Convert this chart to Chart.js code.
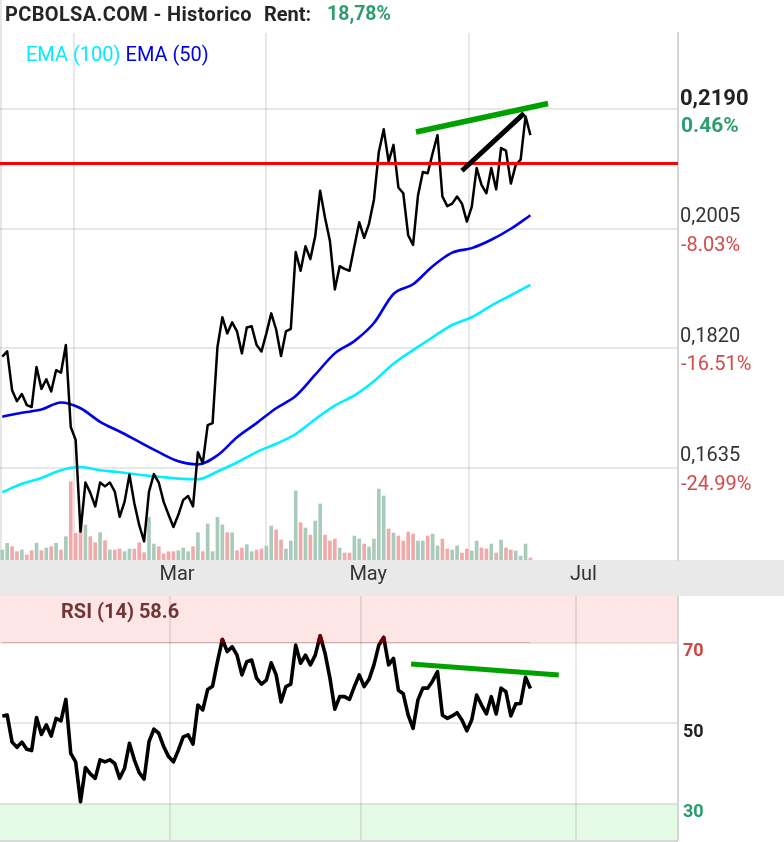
<!DOCTYPE html>
<html><head><meta charset="utf-8">
<script src="https://cdn.jsdelivr.net/npm/chart.js@4.4.1/dist/chart.umd.min.js"></script>
<style>
html,body{margin:0;padding:0;background:#fff;}
#wrap{position:relative;width:784px;height:842px;overflow:hidden;font-family:Roboto,"Noto Sans",sans-serif;}
canvas{position:absolute;left:0;}
#c1{top:0;}
#c2{top:596px;}
.t{position:absolute;white-space:pre;z-index:2;}
.h{top:4px;font-weight:bold;font-size:20px;line-height:20px;color:#252525;}
</style></head><body>
<div id="wrap">
<canvas id="c1" width="784" height="596"></canvas>
<canvas id="c2" width="784" height="246"></canvas>
<div class="t h" style="left:5px;letter-spacing:0.35px;">PCBOLSA.COM - Historico</div>
<div class="t h" style="left:264px;">Rent:</div>
<div class="t h" style="left:327px;font-size:19.5px;color:#2e9e6e">18,78%</div>
<div class="t" style="left:26px;top:44px;font-size:20px;line-height:20px;"><span style="color:#00eeff">EMA (100)</span> <span style="color:#0000ee">EMA (50)</span></div>
<div class="t" style="left:61px;top:601px;font-weight:bold;font-size:20px;line-height:20px;color:#703535">RSI (14) 58.6</div>
</div>
<script>
// ---- data ----
const closes = [0.1807,0.1815,0.1755,0.1738,0.1749,0.1732,0.1729,0.1791,0.1757,0.1772,
0.1753,0.1786,0.1782,0.1825,0.1698,0.1678,0.1536,0.1612,0.1596,0.1575,
0.1612,0.1606,0.1612,0.1598,0.1559,0.1582,0.1624,0.1580,0.1546,0.1521,
0.1598,0.1625,0.1612,0.1582,0.1562,0.1543,0.1562,0.1585,0.1591,0.1575,
0.1659,0.1642,0.1701,0.1704,0.1822,0.1868,0.1843,0.1860,0.1846,0.1812,
0.1852,0.1854,0.1825,0.1815,0.1843,0.1874,0.1849,0.1808,0.1846,0.1850,
0.1969,0.1940,0.1978,0.1958,0.1994,0.2064,0.2022,0.1986,0.1911,0.1947,
0.1943,0.1940,0.1978,0.2015,0.1991,0.2013,0.2050,0.2124,0.2159,0.2109,
0.2135,0.2069,0.2060,0.1995,0.1980,0.2056,0.2093,0.2091,0.2122,0.2150,
0.2055,0.2040,0.2044,0.2055,0.2044,0.2016,0.2039,0.2099,0.2073,0.2060,
0.2099,0.2066,0.2130,0.2126,0.2075,0.2104,0.2112,0.2179,0.2150];

const rsi14 = [51.8,52.0,45.3,44.0,45.3,43.5,43.2,51.4,47.2,49.6,
46.8,51.2,50.6,55.9,42.5,40.4,30.5,39.0,37.4,36.3,
40.9,40.4,40.9,40.0,36.3,38.8,45.0,40.9,37.7,36.1,
45.4,48.5,47.5,44.2,41.7,40.4,43.3,46.6,47.1,44.8,
54.5,53.3,58.4,59.2,65.3,70.8,67.8,69.0,66.9,62.0,
65.3,65.7,61.2,59.7,60.7,65.0,62.0,55.3,59.1,59.7,
69.4,64.9,66.9,64.5,66.9,71.7,67.4,61.2,53.5,56.6,
56.6,55.9,59.1,62.0,59.1,60.9,64.5,69.4,71.3,64.5,
66.1,58.2,57.3,52.0,48.7,55.8,58.7,58.7,60.5,62.8,
52.0,51.2,51.8,52.6,50.8,48.1,50.8,57.0,54.5,52.3,
56.6,52.3,58.7,57.8,51.8,54.8,54.9,61.4,58.6];

const volume = [30,50,40,25,30,15,28,50,28,36,
40,50,30,70,235,80,110,105,70,52,
82,58,30,30,33,25,33,33,52,22,
128,48,40,18,25,25,28,36,25,40,
82,25,108,25,128,105,82,82,28,36,
46,25,30,33,42,102,90,60,33,57,
207,112,96,75,117,168,75,57,63,36,
21,21,72,63,48,39,63,213,192,93,
81,72,57,84,78,57,57,72,78,42,
63,33,30,42,21,33,27,57,36,33,
48,21,60,36,30,27,12,48,6];

const volumeUp = [1,1,0,0,1,0,0,1,0,1,
0,1,0,1,0,0,0,1,0,0,
1,0,1,0,0,1,1,0,0,0,
1,1,0,0,0,0,1,1,1,0,
1,0,1,1,1,1,0,1,0,0,
1,1,0,0,1,1,0,0,1,1,
1,0,1,0,1,1,0,0,0,1,
0,0,1,1,0,1,1,1,1,0,
1,0,0,0,0,1,1,0,1,1,
0,0,1,1,0,0,1,1,0,0,
1,0,1,0,0,1,1,1,0];

const emaDays = [0,4,8,12,16,20,24,28,32,36,40,44,48,52,56,60,64,68,72,76,80,84,88,92,96,100,104,108];
const ema50  = [0.1714,0.1720,0.1725,0.1736,0.1727,0.1706,0.1691,0.1675,0.1659,0.1645,0.1640,0.1654,0.1682,0.1704,0.1727,0.1746,0.1779,0.1812,0.1831,0.1859,0.1904,0.1919,0.1947,0.1968,0.1975,0.1988,0.2005,0.2026];
const ema100 = [0.1597,0.1610,0.1619,0.1631,0.1636,0.1631,0.1628,0.1624,0.1621,0.1618,0.1617,0.1629,0.1643,0.1659,0.1672,0.1687,0.1710,0.1731,0.1747,0.1769,0.1796,0.1817,0.1837,0.1856,0.1868,0.1886,0.1902,0.1918];

const monthLabels = ['Mar','May','Jul'];
const monthPositions = [34.3, 73.4, 117.4];
const priceTicks = [0.2190, 0.2005, 0.1820, 0.1635];
const pctLabels = ['0.46%','-8.03%','-16.51%','-24.99%'];
const rsiTicks = [70, 50, 30];
const rsiOverbought = 70;
const resistanceLevel = 0.2106;
const trendPrice = [[84.6, 0.21548],[111.6, 0.2199]];
const trendPriceBlack = [[94.0, 0.20949],[106.7, 0.21838]];
const trendRsi = [[83.6, 64.7],[113.8, 62.0]];
const xRange = [-0.47, 138.18];
const priceRange = [0.1492, 0.23082];
const rsiRange = [20.98, 81.6];
const volumeMax = 1581;

// ---- helpers ----
const seq = arr => arr.map((y,i)=>({x:i,y}));
const pairs = arr => arr.map(([x,y])=>({x,y}));
const GRID = 'rgba(0,0,0,0.09)';
const FONT = 'Roboto, "Noto Sans", sans-serif';

const xScale = (showLabels, h) => ({
  type:'linear', min:xRange[0], max:xRange[1], offset:false,
  afterBuildTicks: s => { s.ticks = monthPositions.map(v=>({value:v})); },
  afterFit: s => { s.height = h; },
  ticks:{display:showLabels, callback:(v,i)=>monthLabels[i], font:{family:FONT,size:20}, color:'#333',
         padding:3, labelOffset:7, maxRotation:0, autoSkip:false},
  grid:{color:GRID, lineWidth:2, drawTicks:false},
  border:{display:false}
});

const mainPlugin = {
  id:'mainDeco',
  beforeDraw(chart){
    const c = chart.ctx, a = chart.chartArea;
    c.save();
    c.fillStyle = '#e9e9e9';
    c.fillRect(0, a.bottom, chart.width, chart.height - a.bottom);
    c.fillStyle = '#e6e6e6';
    c.fillRect(0, 0, 2, a.bottom);
    c.restore();
  },
  afterDraw(chart){
    const c = chart.ctx, y = chart.scales.y;
    c.save();
    c.textAlign = 'left'; c.textBaseline = 'alphabetic';
    priceTicks.forEach((v,i)=>{
      const py = y.getPixelForValue(v);
      const txt = v.toFixed(4).replace('.', ',');
      if (i === 0) {
        c.font = 'bold 22px ' + FONT; c.fillStyle = '#222';
        c.fillText(txt, 680, py - 4.5);
        c.font = 'bold 21px ' + FONT; c.fillStyle = '#2e9e6e';
        c.fillText(pctLabels[i], 681, py + 23);
      } else {
        c.font = '20px ' + FONT; c.fillStyle = '#333';
        c.fillText(txt, 680, py - 6.5);
        c.fillStyle = '#d44a4a';
        c.fillText(pctLabels[i], 681, py + 22);
      }
    });
    c.restore();
  }
};

new Chart(document.getElementById('c1'), {
  type:'line',
  data:{datasets:[
    {data:pairs(trendPrice), borderColor:'#00a000', borderWidth:5.5, order:0},
    {data:pairs(trendPriceBlack), borderColor:'#000', borderWidth:5, order:0},
    {data:[{x:xRange[0],y:resistanceLevel},{x:xRange[1],y:resistanceLevel}], borderColor:'#ff0000', borderWidth:3, order:1},
    {data:seq(closes), borderColor:'#000', borderWidth:2.5, order:2},
    {data:emaDays.map((d,k)=>({x:d,y:ema50[k]})), borderColor:'#0000ee', borderWidth:2.6, cubicInterpolationMode:'monotone', order:3},
    {data:emaDays.map((d,k)=>({x:d,y:ema100[k]})), borderColor:'#00f0ff', borderWidth:2.6, cubicInterpolationMode:'monotone', order:4},
    {type:'bar', data:seq(volume), yAxisID:'yv', barThickness:3, order:5,
     backgroundColor: ctx => volumeUp[ctx.dataIndex] ? '#a9cbbb' : '#f2a9a9'}
  ]},
  options:{
    responsive:false, animation:false, events:[],
    layout:{padding:{top:33,left:0,right:0,bottom:0}},
    elements:{point:{radius:0}, line:{tension:0, borderJoinStyle:'round', fill:false}},
    plugins:{legend:{display:false}, tooltip:{enabled:false}},
    scales:{
      x:xScale(true, 36),
      y:{position:'right', min:priceRange[0], max:priceRange[1],
         afterBuildTicks: s => { s.ticks = priceTicks.map(v=>({value:v})); },
         afterFit: s => { s.width = 106; },
         ticks:{display:false}, grid:{color:GRID, lineWidth:2, drawTicks:false},
         border:{display:true, color:'#d5d5d5', width:2}},
      yv:{display:false, min:0, max:volumeMax}
    }
  },
  plugins:[mainPlugin]
});

const OVERBOUGHT = '#6e0000';
const rsiPlugin = {
  id:'rsiDeco',
  beforeDraw(chart){
    const c = chart.ctx, a = chart.chartArea, y = chart.scales.y;
    const y70 = y.getPixelForValue(70), y30 = y.getPixelForValue(30);
    c.save();
    c.fillStyle = '#ffe6e6';
    c.fillRect(a.left, a.top, a.right - a.left, y70 - a.top);
    c.fillStyle = '#e6fbe6';
    c.fillRect(a.left, y30, a.right - a.left, a.bottom - y30);
    c.fillStyle = '#d8d8d8';
    c.fillRect(a.left, a.bottom, a.right - a.left, 2);
    c.restore();
  },
  beforeDatasetDraw(chart, args){
    if (chart.data.datasets[args.index].overbought) {
      const c = chart.ctx, yTop = chart.scales.y.getPixelForValue(rsiOverbought);
      c.save();
      c.beginPath(); c.rect(0, 0, chart.width, yTop); c.clip();
    }
  },
  afterDatasetDraw(chart, args){
    if (chart.data.datasets[args.index].overbought) chart.ctx.restore();
  },
  afterDraw(chart){
    const c = chart.ctx, y = chart.scales.y;
    const cols = ['#d04545','#222','#2a9d6e'];
    c.save();
    c.font = 'bold 18px ' + FONT; c.textAlign = 'left'; c.textBaseline = 'alphabetic';
    rsiTicks.forEach((v,i)=>{
      c.fillStyle = cols[i];
      c.fillText(String(v), 683, y.getPixelForValue(v) + 13.5);
    });
    c.restore();
  }
};

new Chart(document.getElementById('c2'), {
  type:'line',
  data:{datasets:[
    {data:pairs(trendRsi), borderColor:'#00a000', borderWidth:5, order:0},
    {data:seq(rsi14), borderColor:OVERBOUGHT, borderWidth:3.6, order:1, overbought:true},
    {data:seq(rsi14), borderColor:'#000', borderWidth:3.6, order:2,
     fill:{target:{value:rsiOverbought}, above:OVERBOUGHT, below:'rgba(0,0,0,0)'}}
  ]},
  options:{
    responsive:false, animation:false, events:[],
    layout:{padding:0},
    elements:{point:{radius:0}, line:{tension:0, borderJoinStyle:'round', fill:false}},
    plugins:{legend:{display:false}, tooltip:{enabled:false}},
    scales:{
      x:xScale(false, 2),
      y:{position:'right', min:rsiRange[0], max:rsiRange[1],
         afterBuildTicks: s => { s.ticks = rsiTicks.map(v=>({value:v})); },
         afterFit: s => { s.width = 106; },
         ticks:{display:false}, grid:{color:GRID, lineWidth:2, drawTicks:false},
         border:{display:true, color:'#d5d5d5', width:2}}
    }
  },
  plugins:[rsiPlugin]
});
</script>
</body></html>
